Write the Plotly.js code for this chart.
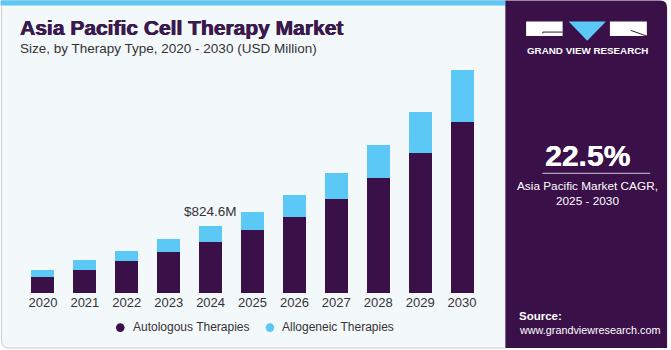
<!DOCTYPE html>
<html>
<head>
<meta charset="utf-8">
<script src="https://cdn.plot.ly/plotly-3.0.1.min.js"></script>
<style>
html,body{margin:0;padding:0;background:#ffffff;}
#chart{width:671px;height:350px;}
</style>
</head>
<body>
<div id="chart"></div>
<script>
// ---- data ----
const years = ["2020","2021","2022","2023","2024","2025","2026","2027","2028","2029","2030"];
const autologous = [192, 283, 389, 505, 632, 776, 943, 1157, 1416, 1727, 2112];
const allogeneic = [95, 123, 132, 164, 193, 222, 271, 327, 406, 508, 645];
const seriesNames = ["Autologous Therapies", "Allogeneic Therapies"];
const highlightYear = "2024";
const highlightLabel = "$824.6M";
const cagrValue = "22.5%";
const cagrText = "Asia Pacific Market CAGR,<br>2025 - 2030";

// ---- geometry ----
const W = 671, H = 350;
const M = {l: 21.5, r: 187.5, t: 57.7, b: 56.7};
const PW = W - M.l - M.r, PH = H - M.t - M.b;
const X = px => (px - M.l) / PW;
const Y = py => (H - M.b - py) / PH;

const DARK = "#3a1048", LIGHT = "#5bc8f5";

const traces = [
  {type: "bar", x: years, y: autologous, name: seriesNames[0],
   marker: {color: DARK, line: {width: 0}}, showlegend: false, hoverinfo: "skip"},
  {type: "bar", x: years, y: allogeneic, name: seriesNames[1],
   marker: {color: LIGHT, line: {width: 0}}, showlegend: false, hoverinfo: "skip"}
];

const hiIdx = years.indexOf(highlightYear);
const hiTotal = autologous[hiIdx] + allogeneic[hiIdx];

function rect(x0, y0, x1, y1, fill, line, layer) {
  return {type: "rect", xref: "paper", yref: "paper", x0: X(x0), x1: X(x1), y0: Y(y1), y1: Y(y0),
          fillcolor: fill, line: line || {width: 0}, layer: layer || "below"};
}
function pathPx(pts, fill, line, layer) {
  let d = "";
  pts.forEach(p => {
    d += p[0];
    for (let i = 1; i < p.length; i += 2) {
      d += " " + X(p[i]).toFixed(5) + "," + Y(p[i+1]).toFixed(5) + " ";
    }
  });
  return {type: "path", xref: "paper", yref: "paper", path: d + (fill ? "Z" : ""),
          fillcolor: fill || "rgba(0,0,0,0)", line: line || {width: 0}, layer: layer || "below"};
}

const shapes = [
  pathPx([["M",1,0],["L",506,0],["L",506,348.5],["L",8,348.5],["Q",1,348.5,1,341],["Z"]],
         "#f3f8fb", {color: "#c9cdd2", width: 1}),
  rect(0, 0, 506, 5, LIGHT),
  pathPx([["M",506,0],["L",661,0],["Q",668,0,668,7],["L",668,348.5],["L",506,348.5]],
         DARK, {width: 0}),
  rect(526.7, 21, 563.3, 35.7, "#ffffff", null, "above"),
  pathPx([["M",543.5,33],["L",543.5,31.7],["L",563.3,31.7]], null, {color: DARK, width: 1}, "above"),
  pathPx([["M",569.3,21],["L",606.7,21],["L",588,40.3]], LIGHT, {width: 0}, "above"),
  rect(610.7, 21, 647.7, 35.7, "#ffffff", null, "above"),
  pathPx([["M",631.5,30],["L",647.7,35.7]], null, {color: DARK, width: 1}, "above"),
  pathPx([["M",543,173.3],["L",651,173.3]], null, {color: "#cfc6da", width: 1}, "above"),
  {type: "circle", xref: "paper", yref: "paper", x0: X(115.7), x1: X(124.3), y0: Y(332.3), y1: Y(323.7),
   fillcolor: DARK, line: {width: 0}},
  {type: "circle", xref: "paper", yref: "paper", x0: X(265.7), x1: X(274.3), y0: Y(332.3), y1: Y(323.7),
   fillcolor: LIGHT, line: {width: 0}}
];

let grid = "";
const hy = [10, 18, 27, 37, 48, 60, 73];
hy.forEach(y => { grid += `<path d="M0 ${y} Q81 ${y-4} 162 ${y}" stroke="#ffffff" stroke-opacity="0.22" fill="none" stroke-width="0.8"/>`; });
for (let i = -8; i <= 16; i++) {
  const xt = 81 + i * 9, xb = 81 + i * 16;
  grid += `<path d="M${xt} 0 L${xb} 78" stroke="#ffffff" stroke-opacity="0.2" fill="none" stroke-width="0.8"/>`;
}
const svg = `<svg xmlns="http://www.w3.org/2000/svg" width="162" height="80" viewBox="0 0 162 80">
<defs><linearGradient id="g" x1="0" y1="0" x2="0" y2="1">
<stop offset="0" stop-color="#3a1048" stop-opacity="0"/>
<stop offset="0.3" stop-color="#4a4c8e" stop-opacity="0.85"/>
<stop offset="1" stop-color="#62b4ea" stop-opacity="1"/></linearGradient>
<linearGradient id="m" x1="0" y1="0" x2="0" y2="1">
<stop offset="0" stop-color="#fff" stop-opacity="0"/><stop offset="0.4" stop-color="#fff" stop-opacity="1"/></linearGradient>
<mask id="k"><rect width="162" height="80" fill="url(#m)"/></mask></defs>
<rect width="162" height="80" fill="url(#g)"/>
<g mask="url(#k)">${grid}</g></svg>`;
const images = [{
  source: "data:image/svg+xml;charset=utf-8," + encodeURIComponent(svg),
  xref: "paper", yref: "paper", x: X(506), y: Y(268.5), sizex: 162 / PW, sizey: 80 / PH,
  xanchor: "left", yanchor: "top", sizing: "stretch", layer: "below"
}];

const F = "Liberation Sans, Arial, sans-serif";
const annotations = [
  {xref: "paper", yref: "paper", x: X(17), y: Y(27.5), xanchor: "left", yanchor: "middle", showarrow: false,
   text: "<b>Asia Pacific Cell Therapy Market</b>",
   font: {family: F, size: 21, color: "#3a1a4d", shadow: "0.5px 0 0 #3a1a4d, -0.3px 0 0 #3a1a4d"}},
  {xref: "paper", yref: "paper", x: X(17), y: Y(48.5), xanchor: "left", yanchor: "middle", showarrow: false,
   text: "Size, by Therapy Type, 2020 - 2030 (USD Million)", font: {family: F, size: 13.5, color: "#333333"}},
  {xref: "x", yref: "y", x: hiIdx, y: hiTotal, yanchor: "bottom", yshift: 5, showarrow: false,
   text: highlightLabel, font: {family: F, size: 13.5, color: "#333333"}},
  {xref: "paper", yref: "paper", x: X(131), y: Y(327.5), xanchor: "left", yanchor: "middle", showarrow: false,
   text: seriesNames[0], font: {family: F, size: 12, color: "#333333"}},
  {xref: "paper", yref: "paper", x: X(280.5), y: Y(327.5), xanchor: "left", yanchor: "middle", showarrow: false,
   text: seriesNames[1], font: {family: F, size: 12, color: "#333333"}},
  {xref: "paper", yref: "paper", x: X(588), y: Y(50.5), xanchor: "center", yanchor: "middle", showarrow: false,
   text: "<b>GRAND VIEW RESEARCH</b>", font: {family: F, size: 9.8, color: "#ffffff"}},
  {xref: "paper", yref: "paper", x: X(588), y: Y(155.5), xanchor: "center", yanchor: "middle", showarrow: false,
   text: "<b>" + cagrValue + "</b>",
   font: {family: F, size: 30, color: "#ffffff", shadow: "0.5px 0 0 #ffffff"}},
  {xref: "paper", yref: "paper", x: X(588), y: Y(193.3), xanchor: "center", yanchor: "middle", showarrow: false,
   text: cagrText, align: "center", font: {family: F, size: 11.8, color: "#ffffff"}},
  {xref: "paper", yref: "paper", x: X(518), y: Y(316.7), xanchor: "left", yanchor: "middle", showarrow: false,
   text: "<b>Source:</b>", font: {family: F, size: 11.5, color: "#ffffff"}},
  {xref: "paper", yref: "paper", x: X(517.5), y: Y(330.5), xanchor: "left", yanchor: "middle", showarrow: false,
   text: "www.grandviewresearch.com", font: {family: F, size: 10.8, color: "#ffffff"}}
];

const layout = {
  width: W, height: H, margin: M,
  paper_bgcolor: "#ffffff", plot_bgcolor: "rgba(0,0,0,0)",
  barmode: "stack", bargap: 0.452, showlegend: false, hovermode: false,
  xaxis: {type: "category", range: [-0.5, years.length - 0.5], autorange: false,
          showgrid: false, zeroline: false, showline: false, ticks: "",
          tickfont: {family: F, size: 13, color: "#333333"}, fixedrange: true},
  yaxis: {visible: false, range: [0, 2900], autorange: false, fixedrange: true},
  shapes: shapes, images: images, annotations: annotations
};

Plotly.newPlot("chart", traces, layout, {displayModeBar: false, staticPlot: true});
</script>
</body>
</html>
